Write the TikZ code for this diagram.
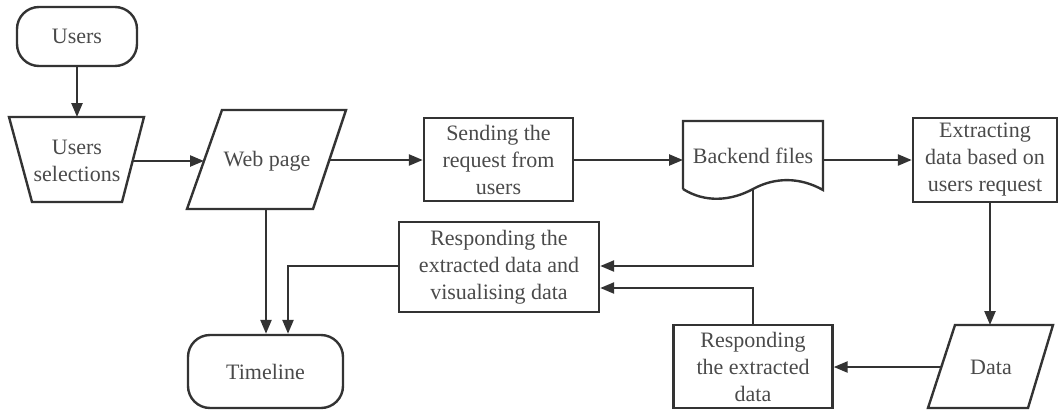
\documentclass[tikz,border=0pt]{standalone}
\usepackage{fontspec}
\setmainfont{Liberation Serif}
\usetikzlibrary{arrows.meta}
\definecolor{ln}{HTML}{333333}
\definecolor{tx}{HTML}{4A4A4A}
\tikzset{
  lbl/.style={align=center, text=tx, font=\fontsize{22}{27}\selectfont, inner sep=0pt},
  box/.style={lbl, draw=ln, line width=2.4pt},
  term/.style={box, rounded corners=22pt},
  shp/.style={draw=ln, line width=2.4pt, line join=miter},
  conn/.style={draw=ln, line width=2.4pt},
  arr/.style={conn, -{Triangle[length=14pt,width=11pt]}},
}
\begin{document}
\begin{tikzpicture}[x=1pt,y=-1pt]
\useasboundingbox (0,0) rectangle (1058,410);

% terminals
\node[term, minimum width=120pt, minimum height=59pt] (users) at (77,36.5) {Users};
\node[term, minimum width=155pt, minimum height=73pt] (timeline) at (265.5,371.5) {Timeline};

% users selections (trapezoid)
\draw[shp] (9,117) -- (144,117) -- (122,202) -- (32,202) -- cycle;
\node[lbl] (sel) at (77,161) {Users\\selections};
\coordinate (selT) at (77,117);
\coordinate (selR) at (133,161);

% web page (parallelogram)
\draw[shp] (222,110) -- (346,110) -- (313,209) -- (187,209) -- cycle;
\node[lbl] (web) at (267,161) {Web page};
\coordinate (webL) at (204,161);
\coordinate (webR) at (329,160);
\coordinate (webB) at (266,209);

% sending
\node[box, minimum width=149pt, minimum height=83pt] (send) at (498.5,159.5) {Sending the\\request from\\users};

% backend files (document)
\draw[shp] (683,189) -- (683,121) -- (823,121) -- (823,190)
  .. controls (800,177) and (775,177) .. (753,189)
  .. controls (731,201) and (705,203) .. (683,189);
\node[lbl] (back) at (753,156) {Backend files};
\coordinate (backL) at (683,160);
\coordinate (backR) at (823,160);
\coordinate (backB) at (753,190);

% extracting
\node[box, minimum width=144pt, minimum height=84pt] (extr) at (985,160) {Extracting\\data based on\\users request};

% data (parallelogram)
\draw[shp] (955,325) -- (1053,325) -- (1028,408) -- (928,408) -- cycle;
\node[lbl] (data) at (991,367) {Data};
\coordinate (dataT) at (990,325);
\coordinate (dataL) at (941,367);

% responding boxes
\node[box, minimum width=159pt, minimum height=83pt] (resp2) at (753,366.5) {Responding\\the extracted\\data};
\node[box, minimum width=200pt, minimum height=90pt] (resp1) at (499,267) {Responding the\\extracted data and\\visualising data};

% connectors
\draw[arr] (users.south) -- (selT);
\draw[arr] (selR) -- (webL);
\draw[arr] (webR) -- (send.west |- webR);
\draw[arr] (send.east |- backL) -- (backL);
\draw[arr] (backR) -- (extr.west |- backR);
\draw[arr] (extr.south -| dataT) -- (dataT);
\draw[arr] (dataL) -- (resp2.east |- dataL);
\draw[arr] (backB) -- (753,266) -- (resp1.east |- 0,266);
\draw[arr] (resp2.north) -- (753,288) -- (resp1.east |- 0,288);
\draw[arr] (resp1.west |- 0,266) -- (288,266) -- (timeline.north -| 288,0);
\draw[arr] (webB) -- (timeline.north -| webB);
\end{tikzpicture}
\end{document}
